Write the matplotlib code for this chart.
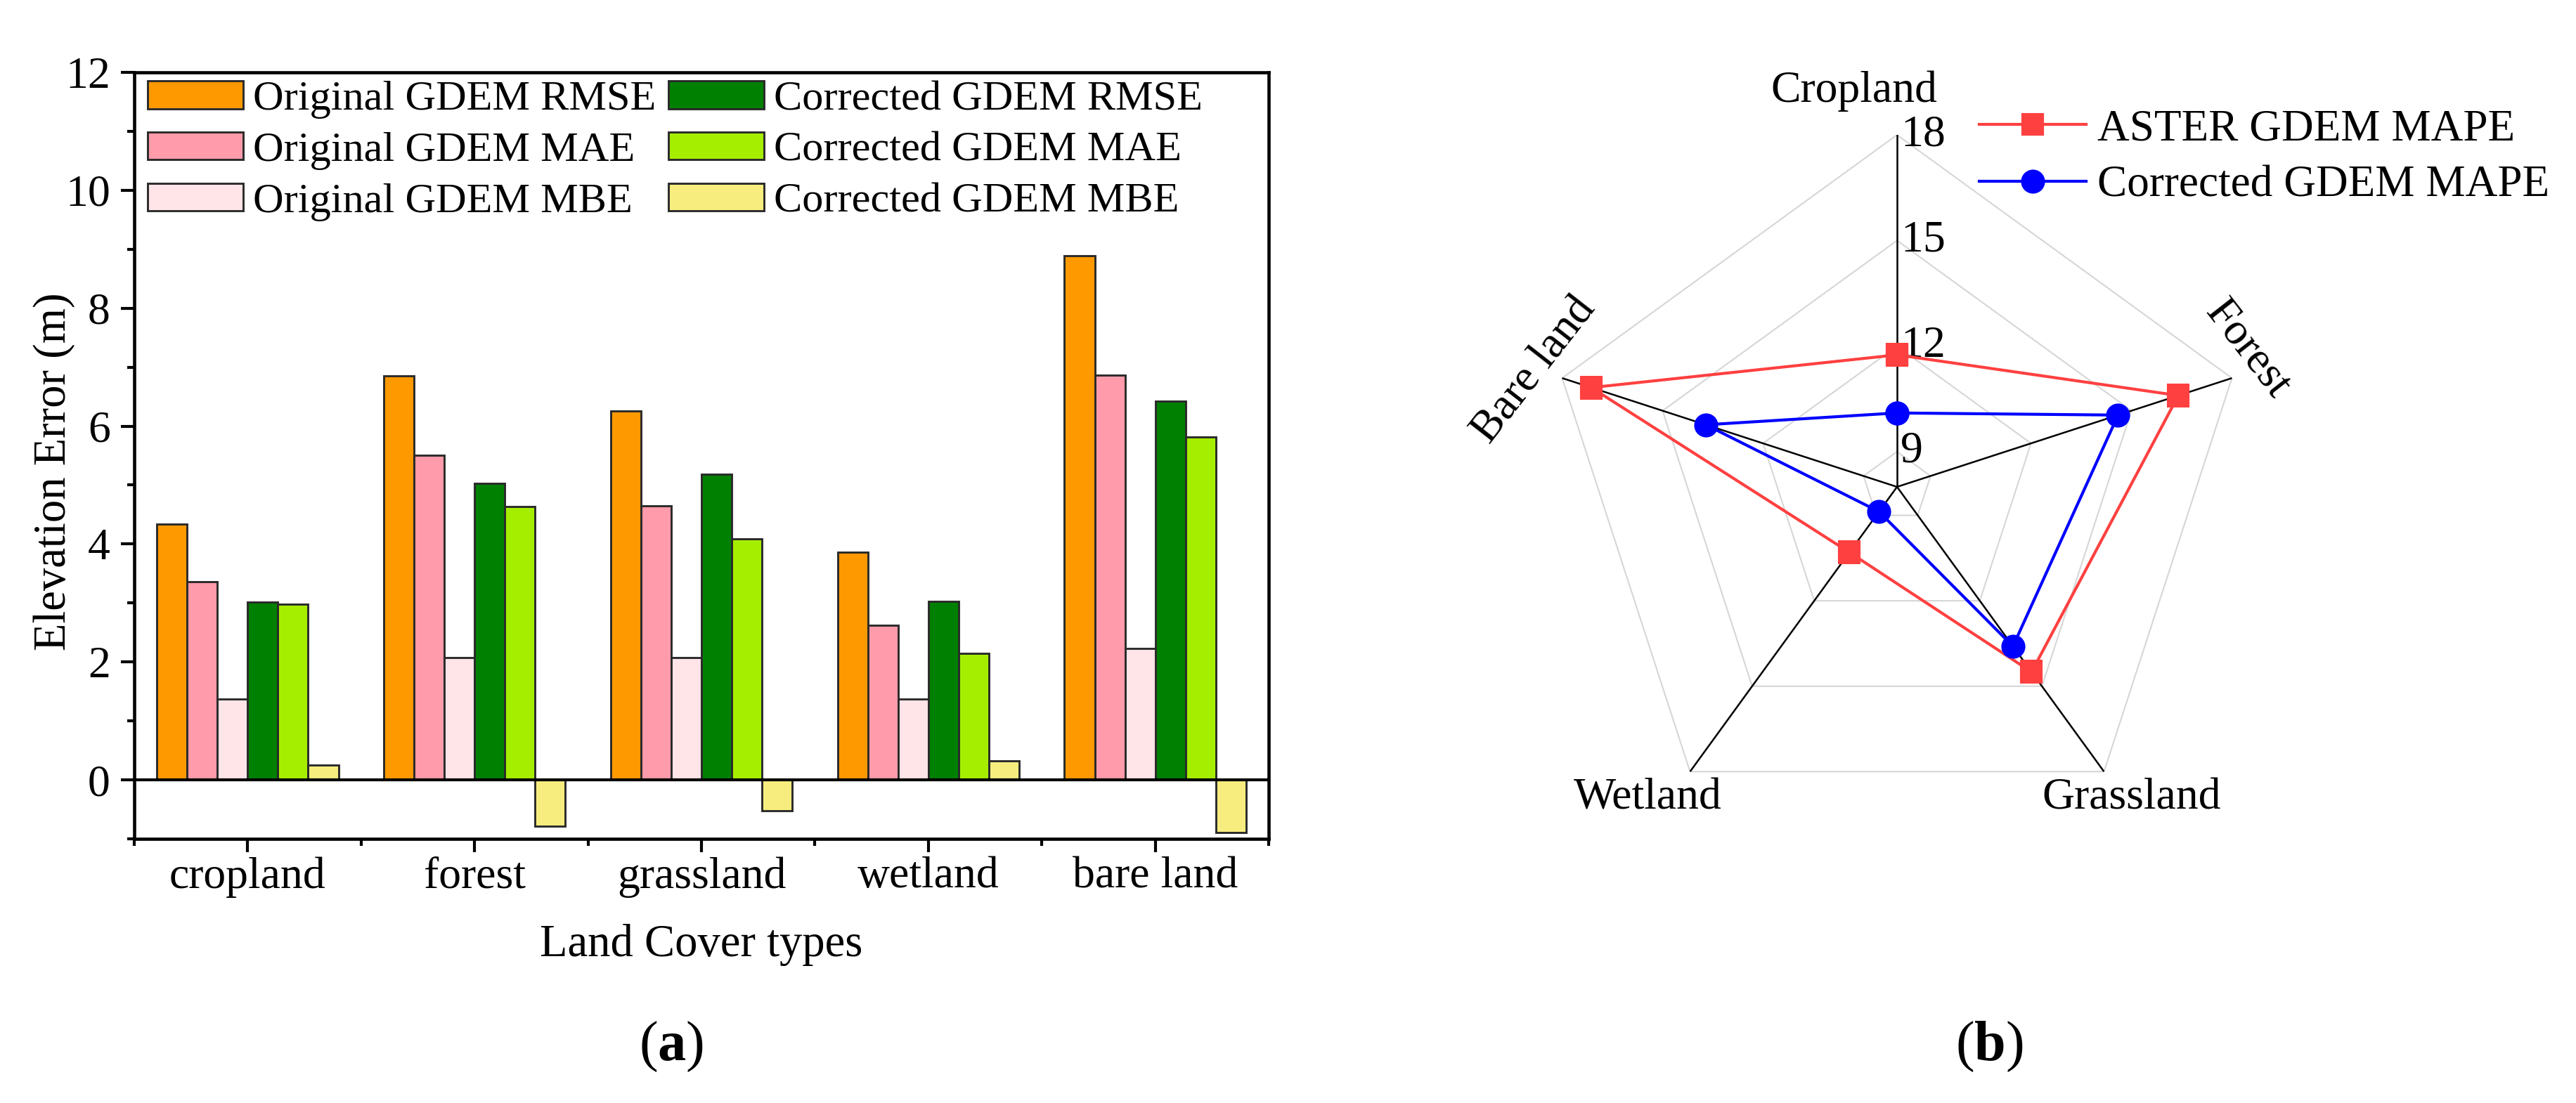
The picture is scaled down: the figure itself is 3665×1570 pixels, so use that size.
import numpy as np
import matplotlib
matplotlib.use('Agg')
import matplotlib.pyplot as plt
from matplotlib.ticker import FixedLocator

plt.rcParams['font.family'] = ['Liberation Serif', 'DejaVu Serif']
plt.rcParams['mathtext.fontset'] = 'custom'
plt.rcParams['mathtext.rm'] = 'Liberation Serif'
plt.rcParams['mathtext.bf'] = 'Liberation Serif:bold'

# ---------------- data ----------------
categories = ['cropland', 'forest', 'grassland', 'wetland', 'bare land']
orig_rmse = [4.34, 6.85, 6.26, 3.86, 8.89]
orig_mae = [3.36, 5.51, 4.65, 2.62, 6.86]
orig_mbe = [1.37, 2.07, 2.07, 1.37, 2.23]
corr_rmse = [3.02, 5.03, 5.18, 3.03, 6.42]
corr_mae = [2.98, 4.64, 4.09, 2.14, 5.81]
corr_mbe = [0.25, -0.78, -0.52, 0.32, -0.89]
series_labels = ['Original GDEM RMSE', 'Original GDEM MAE', 'Original GDEM MBE',
                 'Corrected GDEM RMSE', 'Corrected GDEM MAE', 'Corrected GDEM MBE']
series_colors = ['#FF9900', '#FF9BAA', '#FFE4E8', '#008000', '#A6EE00', '#F7ED7F']
y_ticks = [0, 2, 4, 6, 8, 10, 12]

radar_categories = ['Cropland', 'Forest', 'Grassland', 'Wetland', 'Bare land']
aster_mape = [11.75, 16.40, 14.50, 10.30, 17.13]
corrected_mape = [10.10, 14.60, 13.60, 8.87, 13.71]
radar_ticks = [9, 12, 15, 18]
radar_min = 8

# ---------------- figure ----------------
W, H = 3665, 1570
DPI = 300
fig = plt.figure(figsize=(W / DPI, H / DPI), dpi=DPI)

# ---- (a) bar chart ----
ax_l, ax_r, ax_t, ax_b = 191, 1805, 103, 1194
ax = fig.add_axes([ax_l / W, 1 - ax_b / H, (ax_r - ax_l) / W, (ax_b - ax_t) / H])
x = np.arange(1, len(categories) + 1)
n = 6
w = 0.8 / n
all_series = [orig_rmse, orig_mae, orig_mbe, corr_rmse, corr_mae, corr_mbe]
for i, (vals, col, lab) in enumerate(zip(all_series, series_colors, series_labels)):
    ax.bar(x + (i - (n - 1) / 2) * w, vals, width=w, color=col,
           edgecolor='#2a2a2a', linewidth=0.7, label=lab, zorder=2)
ax.axhline(0, color='black', lw=1.0, zorder=3)
ax.set_xlim(0.5, 5.5)
ax.set_ylim(-1, 12)
ax.set_xticks(x)
ax.set_xticklabels(categories)
ax.xaxis.set_minor_locator(FixedLocator(np.arange(0.5, 5.6, 1.0)))
ax.set_yticks(y_ticks)
ax.yaxis.set_minor_locator(FixedLocator(np.arange(-1, 12, 2)))
ax.tick_params(which='major', length=4.6, width=1.0, direction='out', labelsize=15.3)
ax.tick_params(which='minor', length=2.4, width=1.0, direction='out')
ax.tick_params(axis='y', which='major', pad=3.6)
ax.tick_params(axis='x', which='major', pad=1.5)
for sp in ax.spines.values():
    sp.set_linewidth(1.1)
ax.set_xlabel('Land Cover types', fontsize=15.5, labelpad=9)
ax.set_ylabel('Elevation Error (m)', fontsize=15.5, ha='center', va='center',
              rotation_mode='default')
ax.yaxis.set_label_coords((77 - ax_l) / (ax_r - ax_l), (ax_b - 671) / (ax_b - ax_t))

ax.legend(ncol=2, loc='upper left', bbox_to_anchor=(210 / W, 1 - 115 / H),
          bbox_transform=fig.transFigure, frameon=False, fontsize=14.5,
          handlelength=2.25, handleheight=0.63, handletextpad=0.23,
          columnspacing=0.3, labelspacing=0.31, borderpad=0, borderaxespad=0)

# ---- (b) radar chart ----
cx, cy, R = 2699, 693, 501
rax = fig.add_axes([(cx - R) / W, 1 - (cy + R) / H, 2 * R / W, 2 * R / H], projection='polar')
rax.set_theta_offset(np.pi / 2)
rax.set_theta_direction(-1)
rax.set_ylim(radar_min, radar_ticks[-1])
rax.grid(False)
rax.spines['polar'].set_visible(False)
rax.set_xticks([])
rax.set_yticks([])
rax.patch.set_alpha(0)

angles = np.arange(len(radar_categories)) * 2 * np.pi / len(radar_categories)
ang_c = np.append(angles, angles[0])
for lv in radar_ticks:
    rax.plot(ang_c, [lv] * len(ang_c), color='#d6d6d6', lw=0.5, zorder=1)
for a in angles:
    rax.plot([a, a], [radar_min, radar_ticks[-1]], color='black', lw=0.6, zorder=2)

rax.plot(ang_c, aster_mape + aster_mape[:1], color='#FF4040', lw=1.0, marker='s',
         ms=6.5, zorder=4, label='ASTER GDEM MAPE')
rax.plot(ang_c, corrected_mape + corrected_mape[:1], color='#0000FF', lw=1.0, marker='o',
         ms=7.2, zorder=5, label='Corrected GDEM MAPE')

for v in radar_ticks:
    rax.annotate(str(v), xy=(0, v), xytext=(1.2, 0), textcoords='offset points',
                 ha='left', va='center', fontsize=15.3, annotation_clip=False)

label_offsets = [(-14.6, 14.9), (5.3, 9.8), (9.4, -9.1), (-14.4, -9.1), (-9.4, 2.6)]
label_rot = [0, -52, 0, 0, 52]
for a, name, off, rot in zip(angles, radar_categories, label_offsets, label_rot):
    rax.annotate(name, xy=(a, radar_ticks[-1]), xytext=off, textcoords='offset points',
                 ha='center', va='center', fontsize=15.3, rotation=rot,
                 rotation_mode='anchor', annotation_clip=False)

rax.legend(loc='upper left', bbox_to_anchor=(2816 / W, 1 - 155 / H),
           bbox_transform=fig.transFigure, frameon=False, fontsize=15.2,
           handlelength=2.4, handletextpad=0.25, labelspacing=0.35,
           borderpad=0, borderaxespad=0)

# ---- captions ----
fig.text(955 / W, 1 - 1490 / H, r'($\mathbf{a}$)', ha='center', va='center', fontsize=19.3)
fig.text(2830 / W, 1 - 1490 / H, r'($\mathbf{b}$)', ha='center', va='center', fontsize=19.3)

fig.savefig('out.png', dpi=DPI, facecolor='white')
